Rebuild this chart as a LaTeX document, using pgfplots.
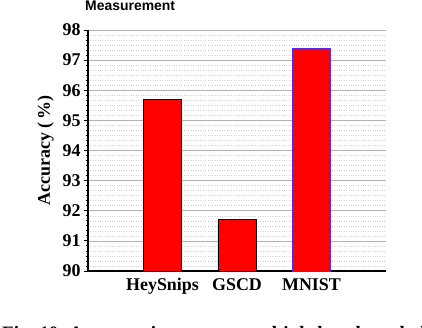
\documentclass[border=0pt]{standalone}
\usepackage{pgfplots}
\pgfplotsset{compat=1.18}
\usepackage{fontspec}
\setmainfont{Liberation Serif}
\newfontfamily\arialfont{Liberation Sans}
\definecolor{edgeblue}{RGB}{90,40,230}

\begin{document}
\begin{tikzpicture}
\begin{axis}[
    at={(0,0)}, anchor=south west,
    scale only axis, width=298bp, height=241bp,
    xmin=0, xmax=4, ymin=90, ymax=98,
    xtick={1,2,3}, xticklabels={HeySnips,GSCD,MNIST},
    ytick={90,91,...,98}, minor y tick num=5,
    axis x line=bottom, axis y line=left,
    axis line style={-, line width=1.3bp},
    x tick style={draw=none},
    y tick style={black, line width=0.8bp},
    tick align=outside, major tick length=4bp, minor tick length=2bp,
    ymajorgrids, yminorgrids,
    major grid style={gray!60, line width=0.6bp},
    minor grid style={gray!35, dotted, line width=0.5bp},
    /pgf/number format/assume math mode=true,
    ticklabel style={font=\fontsize{18}{18}\selectfont\bfseries},
    ylabel={Accuracy (\,\%)},
    ylabel style={font=\fontsize{18}{18}\selectfont\bfseries, yshift=2bp},
]
\addplot[ybar, bar width=38bp, fill=red, draw=black, line width=0.8bp]
    coordinates {(1,95.7) (2,91.7)};
\addplot[ybar, bar width=38bp, fill=red, draw=edgeblue, line width=0.8bp]
    coordinates {(3,97.4)};
\end{axis}
\node[anchor=base west, inner sep=0, font=\arialfont\bfseries\fontsize{14}{14}\selectfont]
    at (-3bp,260bp) {Measurement};
% caption of the figure, cut off by the lower edge as in the reference
\node[anchor=base west, inner sep=0, font=\fontsize{19}{19}\selectfont\bfseries]
    at (-86bp,-68bp) {Fig. 10. Accuracy in common multiple benchmark datasets};
\pgfresetboundingbox
\useasboundingbox (-88bp,-57bp) rectangle (334bp,271bp);
\end{tikzpicture}
\end{document}
